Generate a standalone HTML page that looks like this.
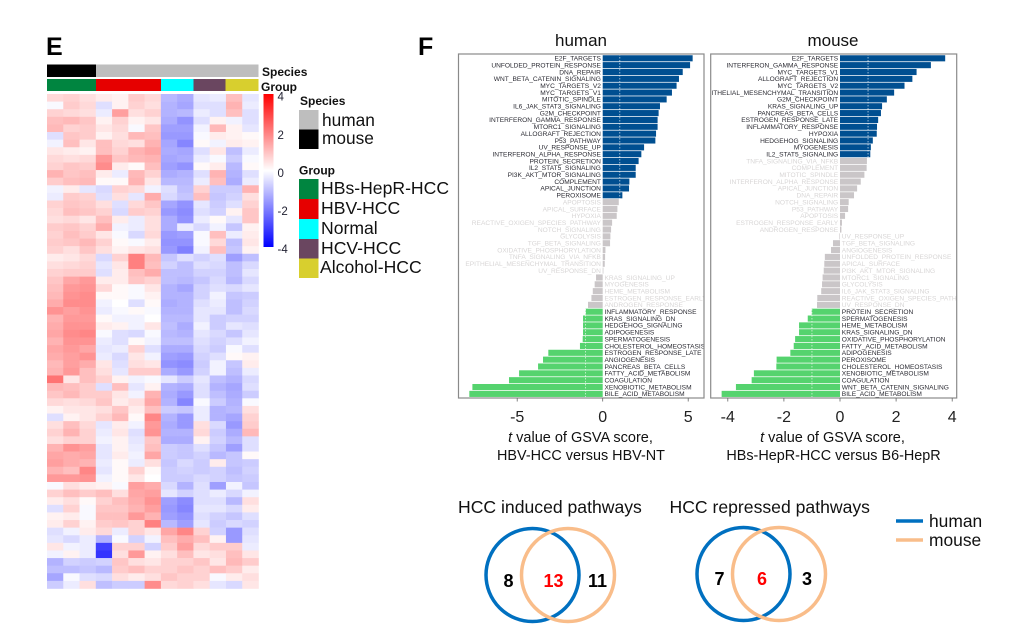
<!DOCTYPE html>
<html lang="en">
<head>
<meta charset="utf-8">
<title>Heatmap, GSVA pathway bars and Venn diagrams</title>
<style>
html,body{margin:0;padding:0;background:#fff;width:1022px;height:640px;overflow:hidden}
svg{display:block;font-family:"Liberation Sans",sans-serif}
</style>
</head>
<body>
<svg id="figure" xmlns="http://www.w3.org/2000/svg" width="1022" height="640" viewBox="0 0 1022 640">
<defs>
<linearGradient id="scale-gradient" x1="0" y1="0" x2="0" y2="1">
<stop offset="0" stop-color="#ff0000"/><stop offset="0.5" stop-color="#ffffff"/><stop offset="1" stop-color="#0000ff"/>
</linearGradient>
<clipPath id="clip-human"><rect x="459" y="54" width="245" height="344"/></clipPath>
<clipPath id="clip-mouse"><rect x="711" y="54" width="245.5" height="344"/></clipPath>
</defs>
<text x="46" y="55" font-size="25" font-weight="bold">E</text>
<text x="418" y="55" font-size="25" font-weight="bold">F</text>

<g>
<rect x="47" y="64.5" width="49" height="12.5" fill="#000"/>
<rect x="96" y="64.5" width="162.5" height="12.5" fill="#bebebe"/>
</g>
<g>
<rect x="47" y="79" width="49" height="12" fill="#008540"/>
<rect x="96" y="79" width="65" height="12" fill="#e60000"/>
<rect x="161" y="79" width="32.5" height="12" fill="#00ffff"/>
<rect x="193.5" y="79" width="32" height="12" fill="#6a4660"/>
<rect x="225.5" y="79" width="33" height="12" fill="#d8cf2e"/>
</g>
<text x="262" y="76" font-size="12" font-weight="bold" fill="#111">Species</text>
<text x="261" y="91" font-size="12" font-weight="bold" fill="#111">Group</text>
<g id="heatmap"></g>

<rect x="263.5" y="94" width="10" height="153" fill="url(#scale-gradient)"/>
<text x="277.5" y="100.5" font-size="11.5" fill="#223">4</text>
<text x="277.5" y="139" font-size="11.5" fill="#223">2</text>
<text x="277.5" y="177" font-size="11.5" fill="#223">0</text>
<text x="277.5" y="215" font-size="11.5" fill="#223">-2</text>
<text x="277.5" y="253" font-size="11.5" fill="#223">-4</text>

<g>
<text x="300" y="105" font-size="12" font-weight="bold" fill="#111">Species</text>
<rect x="299" y="110" width="19.5" height="19.5" fill="#bebebe"/>
<rect x="299" y="129.5" width="19.5" height="19.5" fill="#000"/>
<text x="322" y="126" font-size="17.3" fill="#111">human</text>
<text x="322" y="144" font-size="17.3" fill="#111">mouse</text>
</g>
<g>
<text x="299" y="174.5" font-size="12" font-weight="bold" fill="#111">Group</text>
<rect x="299" y="179" width="19.5" height="20" fill="#008540"/>
<rect x="299" y="199" width="19.5" height="20" fill="#e60000"/>
<rect x="299" y="219" width="19.5" height="20" fill="#00ffff"/>
<rect x="299" y="239" width="19.5" height="19.5" fill="#6a4660"/>
<rect x="299" y="258.5" width="19.5" height="19.5" fill="#d8cf2e"/>
<text x="321" y="194" font-size="17.6" fill="#111">HBs-HepR-HCC</text>
<text x="321" y="214" font-size="17.6" fill="#111">HBV-HCC</text>
<text x="321" y="234" font-size="17.6" fill="#111">Normal</text>
<text x="321" y="254" font-size="17.6" fill="#111">HCV-HCC</text>
<text x="320" y="273" font-size="17.6" fill="#111">Alcohol-HCC</text>
</g>

<text x="581" y="46" font-size="17" text-anchor="middle" fill="#111">human</text>
<text x="833" y="46" font-size="17" text-anchor="middle" fill="#111">mouse</text>
<g id="human-chart"></g>
<g id="mouse-chart"></g>
<text x="580.5" y="442" font-size="14.5" text-anchor="middle" fill="#111"><tspan font-style="italic">t</tspan> value of GSVA score,</text>
<text x="581" y="460" font-size="14.4" text-anchor="middle" fill="#111">HBV-HCC versus HBV-NT</text>
<text x="832.5" y="442" font-size="14.5" text-anchor="middle" fill="#111"><tspan font-style="italic">t</tspan> value of GSVA score,</text>
<text x="833.5" y="460" font-size="14.4" text-anchor="middle" fill="#111">HBs-HepR-HCC versus B6-HepR</text>

<text x="458" y="513" font-size="17.6" fill="#111">HCC induced pathways</text>
<text x="669.5" y="513" font-size="17.6" fill="#111">HCC repressed pathways</text>
<g>
<circle cx="532.5" cy="575" r="46.5" fill="none" stroke="#0070c0" stroke-width="3.5"/>
<circle cx="568" cy="575" r="46.5" fill="none" stroke="#f9bd8a" stroke-width="3.5"/>
<text x="508.5" y="587" font-size="18" font-weight="bold" text-anchor="middle">8</text>
<text x="553.5" y="587" font-size="18" font-weight="bold" text-anchor="middle" fill="#ff0000">13</text>
<text x="597.5" y="587" font-size="18" font-weight="bold" text-anchor="middle">11</text>
</g>
<g>
<circle cx="743.5" cy="574" r="46.5" fill="none" stroke="#0070c0" stroke-width="3.5"/>
<circle cx="779" cy="574" r="46.5" fill="none" stroke="#f9bd8a" stroke-width="3.5"/>
<text x="719.5" y="585" font-size="18" font-weight="bold" text-anchor="middle">7</text>
<text x="762" y="585" font-size="18" font-weight="bold" text-anchor="middle" fill="#ff0000">6</text>
<text x="807" y="585" font-size="18" font-weight="bold" text-anchor="middle">3</text>
</g>
<g>
<line x1="896" y1="521" x2="923" y2="521" stroke="#0070c0" stroke-width="3.5"/>
<line x1="896" y1="540" x2="923" y2="540" stroke="#f9bd8a" stroke-width="3.5"/>
<text x="929" y="527" font-size="17.4" fill="#111">human</text>
<text x="929" y="546" font-size="17.4" fill="#111">mouse</text>
</g>
</svg>
<script>
const humanPathways = ["E2F_TARGETS","UNFOLDED_PROTEIN_RESPONSE","DNA_REPAIR","WNT_BETA_CATENIN_SIGNALING","MYC_TARGETS_V2","MYC_TARGETS_V1","MITOTIC_SPINDLE","IL6_JAK_STAT3_SIGNALING","G2M_CHECKPOINT","INTERFERON_GAMMA_RESPONSE","MTORC1_SIGNALING","ALLOGRAFT_REJECTION","P53_PATHWAY","UV_RESPONSE_UP","INTERFERON_ALPHA_RESPONSE","PROTEIN_SECRETION","IL2_STAT5_SIGNALING","PI3K_AKT_MTOR_SIGNALING","COMPLEMENT","APICAL_JUNCTION","PEROXISOME","APOPTOSIS","APICAL_SURFACE","HYPOXIA","REACTIVE_OXIGEN_SPECIES_PATHWAY","NOTCH_SIGNALING","GLYCOLYSIS","TGF_BETA_SIGNALING","OXIDATIVE_PHOSPHORYLATION","TNFA_SIGNALING_VIA_NFKB","EPITHELIAL_MESENCHYMAL_TRANSITION","UV_RESPONSE_DN","KRAS_SIGNALING_UP","MYOGENESIS","HEME_METABOLISM","ESTROGEN_RESPONSE_EARLY","ANDROGEN_RESPONSE","INFLAMMATORY_RESPONSE","KRAS_SIGNALING_DN","HEDGEHOG_SIGNALING","ADIPOGENESIS","SPERMATOGENESIS","CHOLESTEROL_HOMEOSTASIS","ESTROGEN_RESPONSE_LATE","ANGIOGENESIS","PANCREAS_BETA_CELLS","FATTY_ACID_METABOLISM","COAGULATION","XENOBIOTIC_METABOLISM","BILE_ACID_METABOLISM"];
const humanValues = [5.26,5.11,4.68,4.46,4.32,4.05,3.74,3.35,3.27,3.21,3.21,3.12,3.08,2.42,2.26,2.1,1.93,1.93,1.56,1.54,1.15,0.94,0.86,0.82,0.55,0.49,0.45,0.43,0.16,0.14,0.12,0.04,-0.39,-0.47,-0.58,-0.66,-0.86,-1.0,-1.15,-1.15,-1.15,-1.17,-1.33,-3.18,-3.49,-3.78,-4.89,-5.48,-7.62,-7.8];
const humanTicks = [-5,0,5];
const mousePathways = ["E2F_TARGETS","INTERFERON_GAMMA_RESPONSE","MYC_TARGETS_V1","ALLOGRAFT_REJECTION","MYC_TARGETS_V2","EPITHELIAL_MESENCHYMAL_TRANSITION","G2M_CHECKPOINT","KRAS_SIGNALING_UP","PANCREAS_BETA_CELLS","ESTROGEN_RESPONSE_LATE","INFLAMMATORY_RESPONSE","HYPOXIA","HEDGEHOG_SIGNALING","MYOGENESIS","IL2_STAT5_SIGNALING","TNFA_SIGNALING_VIA_NFKB","COMPLEMENT","MITOTIC_SPINDLE","INTERFERON_ALPHA_RESPONSE","APICAL_JUNCTION","DNA_REPAIR","NOTCH_SIGNALING","P53_PATHWAY","APOPTOSIS","ESTROGEN_RESPONSE_EARLY","ANDROGEN_RESPONSE","UV_RESPONSE_UP","TGF_BETA_SIGNALING","ANGIOGENESIS","UNFOLDED_PROTEIN_RESPONSE","APICAL_SURFACE","PI3K_AKT_MTOR_SIGNALING","MTORC1_SIGNALING","GLYCOLYSIS","IL6_JAK_STAT3_SIGNALING","REACTIVE_OXIGEN_SPECIES_PATHWAY","UV_RESPONSE_DN","PROTEIN_SECRETION","SPERMATOGENESIS","HEME_METABOLISM","KRAS_SIGNALING_DN","OXIDATIVE_PHOSPHORYLATION","FATTY_ACID_METABOLISM","ADIPOGENESIS","PEROXISOME","CHOLESTEROL_HOMEOSTASIS","XENOBIOTIC_METABOLISM","COAGULATION","WNT_BETA_CATENIN_SIGNALING","BILE_ACID_METABOLISM"];
const mouseValues = [3.75,3.24,2.73,2.58,2.3,1.93,1.67,1.5,1.46,1.36,1.32,1.31,1.17,1.1,1.08,0.96,0.95,0.87,0.74,0.61,0.5,0.31,0.29,0.18,0.07,0.05,-0.02,-0.25,-0.32,-0.54,-0.56,-0.58,-0.62,-0.64,-0.67,-0.81,-0.82,-1.01,-1.15,-1.46,-1.46,-1.6,-1.65,-1.77,-2.26,-2.27,-3.07,-3.15,-3.71,-4.22];
const mouseTicks = [-4,-2,0,2,4];
const heatmapRows = [
[.6,.7,.5,.3,.2,.8,.6,-1.1,-1.3,-.4,-.3,1,-.4],
[-.1,.8,.6,-.5,.2,.7,.5,-1.2,-1.4,-.5,-.5,1.2,-.3],
[.7,.6,.5,-.3,1.5,.5,.7,-1.2,-1.1,-.3,-.5,1,-.5],
[1,1.1,.9,.2,.7,.2,.4,-1.3,-1.7,-.5,.2,-.2,-.5],
[1.1,.7,.8,.4,.6,-.1,.9,-1.5,-1.5,-.2,1.1,.2,-.4],
[-.5,.9,.8,.2,.5,1.1,1,-1.6,-1.6,-.1,.3,.2,.1],
[-.2,1,.4,1,.6,.5,1.2,-1.4,-1.9,.1,-.2,.3,.2],
[.4,.3,.2,1,.7,1.2,1.4,-1.3,-1.4,-.5,.4,-1,-.3],
[.6,.5,.6,1.6,.9,1.1,1.2,-1.4,-1.3,-.3,-.1,-.8,-.1],
[.7,.9,.8,1.8,.3,.1,1,-1.5,-1.7,.1,.3,-1.1,.1],
[1.2,.9,1,.3,-.3,1.1,.7,-1.3,-1.2,-.5,1.2,-1.2,-.5],
[.8,1,1.1,.1,.1,1.2,.4,-1.1,-1.1,-.3,1,-1.3,-.3],
[-.2,.3,-.4,-.6,.7,.6,-.2,-.5,-1,.7,-.8,-.8,1.2],
[-.3,.8,.7,-.5,.5,-.4,1.3,-.6,-.9,1,-.9,-.7,.5],
[.7,.9,.8,.5,-.5,.6,.9,-1.4,-1.7,-.4,-.8,-.5,.7],
[.6,1,.9,.7,-.6,.8,.7,-1.6,-1.8,-.5,-.7,.2,.9],
[.5,.6,.4,1,.3,-.3,.5,-1.3,-1.7,-.3,.1,-.4,.9],
[.8,.9,.7,1.3,-.2,-.3,.5,-1.3,-.3,-.6,-.2,-.9,.2],
[.7,1,.8,.4,-.1,-.6,.6,-1.6,-1.5,-.1,1,-.3,.3],
[.8,.9,1.1,.7,.1,-.1,.3,-1.7,-1.7,-.1,.6,-1,.4],
[.7,.5,.9,.5,.2,.4,.5,-1.6,-2,-.2,1,-.9,.2],
[.3,.4,.6,-.6,.7,2,1.1,-.9,-.5,-.7,-.5,-1.5,-1],
[.5,.6,.7,-.4,.4,2,1,-.7,-1,-.5,-.6,-1,-.6],
[.7,.8,.8,-.5,.3,1,1.3,-1,-1,-.7,-.7,-1,-.4],
[.9,1.4,1.6,.3,.3,.9,.7,-1,-1.1,-.9,-.6,-1.1,-.6],
[1,1.6,1.7,.6,.1,-.1,.4,-1.2,-1.4,-.7,-.5,-.6,-.4],
[1.1,1.7,1.8,.1,.1,-.1,.2,-1.2,-1.2,-.7,-.2,-.9,-.8],
[1.3,1.8,1.8,-.2,0,-.5,.1,-1.3,-1.2,-.5,-.3,-1,-.7],
[1.7,1.5,1.7,-.3,-.1,.1,-.1,-1.2,-1.2,-.4,-.4,-1,-.6],
[1.2,1.6,1.6,.1,-.2,-.2,0,-1.1,-1.1,-.4,-.8,-.7,-.7],
[1.3,1.7,1.7,.3,.2,-.2,.4,-1,-1.3,-.2,-.8,-.4,-.5],
[1.4,1.8,1.9,-.1,-.5,-.6,-.1,-1.1,-1.2,-.4,-.6,-.9,-.4],
[1.2,1.7,1.7,-.3,-.5,.1,-.2,-1,-1,-.5,-.7,-.5,-.2],
[1.4,1.6,1.4,-.4,-.3,.7,-.5,-1.3,-1.3,-.6,-.8,-.1,-.5],
[1.3,1.5,1.7,-.3,-.6,.4,-.2,-1.5,-1.6,-.7,-.5,.1,.2],
[1.1,1.5,1.3,.4,-.5,.5,.4,-1.7,-1.8,-.8,-.2,-.9,.3],
[1.2,1.6,1,.5,-.4,.8,.8,-1.3,-1.6,-.7,-.2,-1,-.3],
[2.2,.4,1,.7,.2,-.2,-.1,-.4,-.8,-.4,-1,-1.2,-.6],
[1.1,1,.8,-.5,1,-.4,.2,-1.2,-1.3,-.5,-1.2,-1.4,-.5],
[.9,1.1,.8,.8,.4,-.2,1.2,-1.3,-1.6,-.5,-1,-1.3,-.8],
[.6,.5,.6,.9,.3,.5,1.4,-1.2,-1.9,-.1,-.8,-1.2,-.1],
[.2,.4,.4,.5,.9,.3,1,-.8,-.9,-.3,-1.2,-1.1,.5],
[-.5,.2,.4,.7,1.1,.1,1.9,-1.2,-1.6,-.3,-1.2,-1.4,.7],
[.5,1,.6,-.4,.3,-.2,1.6,-1.3,-1.6,.5,-.6,-1.6,.8],
[.7,1.2,.7,-.3,.4,-.5,1.7,-1.2,-1.2,.6,-.8,-1.3,1.1],
[.5,.7,.7,-.2,.2,-.4,.9,-1.3,-1.3,.2,-.7,-1.1,-.5],
[1.2,1.7,1.5,-.4,.2,-.3,1,-.8,-.9,-.5,-.9,-1.5,-.5],
[1.4,1.3,1.4,-.4,.3,-.2,1.4,-.8,-.9,-.7,-1.1,-.9,.1],
[1.5,1.3,1.2,-.3,.1,-.3,.5,-.9,-.6,-.8,.3,-.9,-.8],
[1.2,1,1.9,-.4,.1,.7,.1,-.8,-.7,-.8,-.7,-1,-.7],
[1.6,1.6,1.7,-.2,.1,.4,0,-.8,-.8,-.6,-.7,-.9,-.8],
[-.1,.5,.3,.2,-.1,1.5,1.3,-.6,-1.2,-.5,-1.5,-.2,-.9],
[.7,1,.8,1,.5,1.4,1.5,-.4,-.7,-.5,-.3,-.6,-.2],
[.3,.5,.1,.7,1,1.3,1.7,-1.5,-1.8,-.5,-.5,-1.1,.5],
[-.5,.7,-.1,.9,.9,1.2,1.5,-1.6,-1.9,-.4,-.4,-.6,.3],
[.2,.3,-.1,1,1,1.6,1.2,-1.5,-1.7,-.5,-.7,-.9,-.5],
[.3,.7,.2,.8,.9,.7,2,-1.1,-1.5,-.4,-.8,-.6,-.7],
[-.5,-.2,.3,.6,-.3,.7,.4,1.4,1.9,.7,-.7,-1.6,-.5],
[-.4,-.6,-.3,-1.2,-.1,-.7,-.2,1,1.3,1,.2,-1.6,-.4],
[.4,-.2,-.3,-3,.7,.7,-.7,.8,1.5,.6,.8,.8,-.3],
[-.2,.2,-.3,-3.2,.5,1.6,.2,.5,1,.4,.5,1,.4],
[-1.2,-.7,-.8,-.7,.9,.5,.4,.7,.7,.9,.4,1.1,.8],
[-1,-1,-.9,-1.1,.8,1,.7,.7,.9,.7,1,.8,.3],
[-1.4,-.1,-.5,-.6,.5,.3,.5,.9,.7,.7,-.1,.3,.5],
[-.8,-.3,.5,-1,-.8,-.8,1.8,.6,.7,.5,-.4,-.6,.4]
];

const SVGNS = "http://www.w3.org/2000/svg";
function make(parent, tag, attrs, text) {
  const el = document.createElementNS(SVGNS, tag);
  for (const k in attrs) el.setAttribute(k, attrs[k]);
  if (text !== undefined) el.textContent = text;
  parent.appendChild(el);
  return el;
}
function slug(s) { return s.toLowerCase().replace(/_/g, "-"); }

function heatColor(v) {
  const t = Math.min(1, Math.abs(v) / 4);
  const c = Math.round(255 * (1 - t));
  return v >= 0 ? "rgb(255," + c + "," + c + ")" : "rgb(" + c + "," + c + ",255)";
}
function drawHeatmap() {
  const g = document.getElementById("heatmap");
  const left = 47, top = 94, width = 211.5, height = 494.5;
  const cols = heatmapRows[0].length;
  const xCol = i => left + i * width / cols;
  const yRow = i => top + i * height / heatmapRows.length;
  heatmapRows.forEach((row, r) => {
    row.forEach((v, c) => {
      const el = make(g, "rect", {
        x: xCol(c), y: yRow(r),
        width: width / cols + 0.3, height: height / heatmapRows.length + 0.3,
        fill: heatColor(v)
      });
      
      
    });
  });
}

function drawBars(groupId, clipId, prefix, names, values, ticks, zero, unit, box) {
  const g = document.getElementById(groupId);
  const x = v => zero + v * unit;
  const first = 58.3, pitch = (393.9 - 58.3) / (names.length - 1);
  const y = i => first + i * pitch;
  const clip = make(g, "g", { "clip-path": "url(#" + clipId + ")" });
  
  

  values.forEach((v, i) => {
    const fill = v >= 1 ? "#004f91" : v <= -1 ? "#55d36e" : "#cac6c8";
    const bar = make(clip, "rect", {
      x: Math.min(x(v), x(0)), y: y(i) - 3.05,
      width: Math.abs(x(v) - x(0)), height: 6.1, fill: fill
    });
    
    
  });
  [-1, 1].forEach(v => {
    const line = make(clip, "line", {
      x1: x(v), x2: x(v), y1: box.top, y2: box.bottom,
      stroke: "#ffffff", "stroke-width": 0.8, "stroke-dasharray": "1.5 1.5", "stroke-opacity": 0.75
    });
    
    
  });
  values.forEach((v, i) => {
    const muted = Math.abs(v) < 1;
    const label = make(clip, "text", {
      x: v >= 0 ? x(0) - 1.8 : x(0) + 1.8, y: y(i) + 2.3,
      "font-size": 6.6, "text-anchor": v >= 0 ? "end" : "start",
      fill: muted ? "#d8d6d6" : "#2b2b33"
    }, names[i]);
    
    
  });

  const frame = make(g, "rect", {
    x: box.left, y: box.top, width: box.right - box.left, height: box.bottom - box.top,
    fill: "none", stroke: "#8a8a8a", "stroke-width": 1.2
  });
  
  

  ticks.forEach(t => {
    const tick = make(g, "line", {
      x1: x(t), x2: x(t), y1: box.bottom, y2: box.bottom + 3.5, stroke: "#666", "stroke-width": 0.8
    });
    
    
    const text = make(g, "text", {
      x: x(t), y: 422, "font-size": 16, "text-anchor": "middle", fill: "#222"
    }, String(t));
    
    
  });
}

drawHeatmap();
drawBars("human-chart", "clip-human", "human", humanPathways, humanValues, humanTicks, 602.7, 17.1,
  { left: 458.5, right: 704, top: 54, bottom: 398 });
drawBars("mouse-chart", "clip-mouse", "mouse", mousePathways, mouseValues, mouseTicks, 840, 28.05,
  { left: 710.7, right: 956.7, top: 54, bottom: 398 });
</script>
</body>
</html>
